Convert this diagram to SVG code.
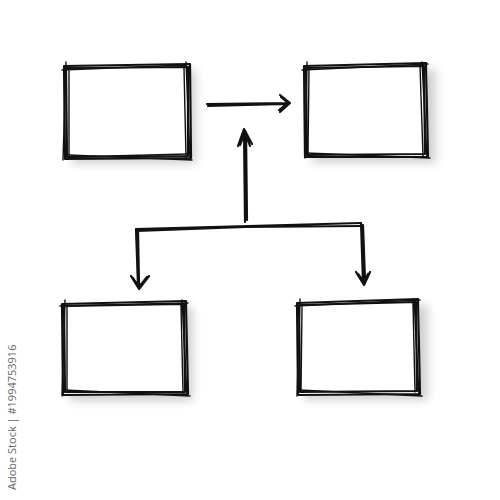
<svg xmlns="http://www.w3.org/2000/svg" width="500" height="500" viewBox="0 0 500 500">
<defs>
<style>
.s{fill:none;stroke:#111;stroke-width:2.2;stroke-linecap:round;stroke-linejoin:round}
.t{fill:none;stroke:#111;stroke-width:1.4;stroke-linecap:round}
.sh{fill:#000;opacity:0.18;filter:url(#blur)}
.wm{font-family:"Open Sans","Liberation Sans",sans-serif;font-size:11px;fill:#666}
</style>
<filter id="blur" x="-20%" y="-20%" width="140%" height="140%"><feGaussianBlur stdDeviation="5"/></filter>
</defs>
<rect width="500" height="500" fill="#fff"/>
<g id="box-tl">
<rect class="sh" x="72" y="70" width="124" height="94"/>
<rect x="65" y="65" width="125" height="93" fill="#fff"/>
<path class="s" d="M64 66 L190 64 L191 158 L65 159 Z"/>
<path class="s" d="M66 68 L188 67 L188 156 L67 157 Z"/>
<path class="t" d="M62 70 L186 65 M68 155 L192 160 M66 62 L63 160 M186 62 L190 160 M70 157 L188 154 M69 69 L69 154 M184 68 L186 158"/>
</g>
<g id="box-tr">
<rect class="sh" x="312" y="69" width="124" height="94"/>
<rect x="305" y="64" width="123" height="93" fill="#fff"/>
<path class="s" d="M304 66 L426 63 L428 157 L305 157 Z"/>
<path class="s" d="M306 68 L424 66 L425 154 L307 155 Z"/>
<path class="t" d="M302 70 L428 64 M306 153 L430 158 M307 62 L305 158 M422 62 L427 158 M309 69 L308 154 M420 66 L423 156"/>
</g>
<g id="box-bl">
<rect class="sh" x="69" y="307" width="124" height="94"/>
<rect x="62" y="302" width="126" height="93" fill="#fff"/>
<path class="s" d="M62 304 L186 301 L188 394 L63 395 Z"/>
<path class="s" d="M64 306 L184 304 L185 392 L65 392 Z"/>
<path class="t" d="M60 306 L188 303 M64 390 L190 396 M65 300 L62 396 M182 300 L187 396 M67 306 L67 392 M181 305 L183 393"/>
</g>
<g id="box-br">
<rect class="sh" x="304" y="305" width="124" height="95"/>
<rect x="297" y="300" width="123" height="95" fill="#fff"/>
<path class="s" d="M297 303 L418 299 L420 394 L298 395 Z"/>
<path class="s" d="M299 305 L416 302 L417 391 L300 392 Z"/>
<path class="t" d="M295 306 L420 300 M299 390 L422 396 M300 299 L297 396 M414 299 L419 396 M302 306 L301 392 M413 303 L415 392"/>
</g>
<g id="connectors">
<path class="s" d="M207 104 L289 103 M208 106 L286 104 M280 95 L290 103 L280 112 M281 97 L288 103 L279 110"/>
<path class="s" d="M245 222 L244 130 M247 220 L246 132 M238 146 L244 129 L252 144 M240 145 L245 132 L250 146"/>
<path class="s" d="M136 229 L361 223 M137 231 L245 227 L362 226 M136 229 L138 286 M138 230 L139 284 M131 276 L139 289 L149 276 M133 278 L139 287 L147 277"/>
<path class="s" d="M361 223 L363 282 M363 225 L365 280 M356 272 L364 285 L370 272 M358 274 L364 282 L368 274"/>
</g>
<text class="wm" transform="translate(16 490) rotate(-90)">Adobe Stock | #1994753916</text>
</svg>
